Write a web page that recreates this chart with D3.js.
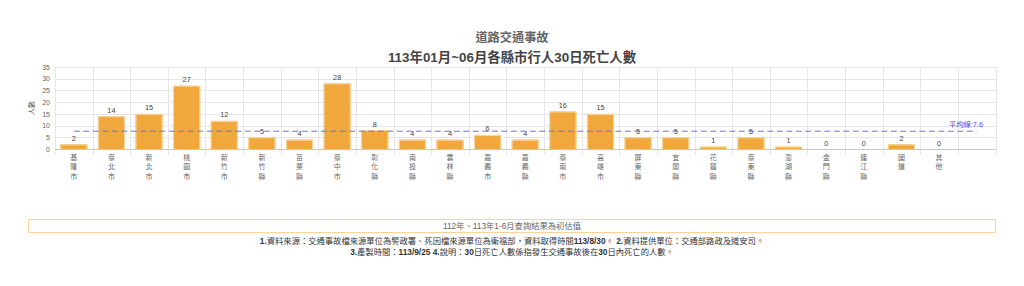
<!DOCTYPE html>
<html>
<head>
<meta charset="utf-8">
<script src="https://cdn.jsdelivr.net/npm/d3@7/dist/d3.min.js"></script>
<style>
  html, body { margin: 0; padding: 0; background: #fff; }
  svg { display: block; }
  text { font-family: "Liberation Sans", "Noto Sans CJK TC", sans-serif; }
</style>
</head>
<body>
<svg id="chart" width="1024" height="286"></svg>
<script>
const categories = ["基隆市","臺北市","新北市","桃園市","新竹市","新竹縣","苗栗縣","臺中市","彰化縣","南投縣","雲林縣","嘉義市","嘉義縣","臺南市","高雄市","屏東縣","宜蘭縣","花蓮縣","臺東縣","澎湖縣","金門縣","連江縣","國道","其他"];
const deaths = [2,14,15,27,12,5,4,28,8,4,4,6,4,16,15,5,5,1,5,1,0,0,2,0];
const averageValue = 7.6;
const averageLabel = "平均線:7.6";
const yTicks = [0,5,10,15,20,25,30,35];
const titleLine1 = "道路交通事故";
const titleLine2 = "113年01月~06月各縣市行人30日死亡人數";
const yTitle = "人數";
const boxNote = "112年、113年1-6月查詢結果為初估值";
const notes = [
  "1.資料來源：交通事故檔來源單位為警政署、死因檔來源單位為衛福部，資料取得時間113/8/30。 2.資料提供單位：交通部路政及道安司。",
  "3.產製時間：113/9/25 4.說明：30日死亡人數係指發生交通事故後在30日內死亡的人數。"
];

(function () {
const svg = d3.select("#chart");
const W = 1024;
const pL = 55, pR = 995.5, pT = 67, pB = 149;

// slots: 24 categories + 1 trailing empty slot (avg line end)
const slots = categories.concat([""]);
const x = d3.scaleBand().domain(d3.range(slots.length)).range([pL, pR]).padding(0);
const y = d3.scaleLinear().domain([0, 35]).range([pB, pT]);

// title
svg.append("text").attr("x", W/2).attr("y", 41.5).attr("text-anchor", "middle")
  .attr("font-size", 12.2).attr("font-weight", "bold").attr("fill", "#666").text(titleLine1);
svg.append("text").attr("x", W/2).attr("y", 61.5).attr("text-anchor", "middle")
  .attr("font-size", 13.4).attr("font-weight", "bold").attr("fill", "#444").text(titleLine2);

// horizontal grid
const gy = svg.append("g").attr("transform", `translate(${pL},0)`)
  .call(d3.axisLeft(y).tickValues(yTicks).tickSize(-(pR-pL)).tickPadding(5).tickFormat(d3.format("d")));
gy.select(".domain").remove();
gy.selectAll(".tick line").attr("stroke", "#e6e6e6").attr("shape-rendering", "crispEdges");
gy.selectAll(".tick text").attr("font-size", 7).attr("fill", "#666")
  .style("font-family", "'Liberation Sans', sans-serif");

// vertical grid lines at slot boundaries
const bounds = d3.range(slots.length + 1).map(i => i < slots.length ? x(i) : pR);
svg.append("g").selectAll("line").data(bounds).join("line")
  .attr("x1", d => Math.round(d) + 0.5).attr("x2", d => Math.round(d) + 0.5)
  .attr("y1", pT).attr("y2", pB + 6)
  .attr("stroke", "#e6e6e6");

// x axis baseline
svg.append("line").attr("x1", pL).attr("x2", pR).attr("y1", pB + 0.5).attr("y2", pB + 0.5)
  .attr("stroke", "#c8c8c8");

// x axis labels (vertical stacked characters)
const gx = svg.append("g").attr("transform", `translate(0,${pB})`)
  .call(d3.axisBottom(x).tickSize(0).tickFormat(""));
gx.select(".domain").remove();
gx.selectAll(".tick").each(function(i) {
  const label = slots[i];
  const t = d3.select(this).append("text").attr("text-anchor", "middle")
    .attr("font-size", 7).attr("fill", "#666");
  Array.from(label).forEach((ch, k) => {
    t.append("tspan").attr("x", 0).attr("y", 10.8 + k * 9.6).text(ch);
  });
});

// y axis title
svg.append("text").attr("transform", "translate(34,108) rotate(-90)").attr("text-anchor", "middle")
  .attr("font-size", 7).attr("fill", "#555").text(yTitle);

// bars
const bw = x.bandwidth() * 0.72;
const bars = svg.append("g");
bars.selectAll("rect").data(deaths).join("rect")
  .attr("x", (d, i) => x(i) + (x.bandwidth() - bw) / 2)
  .attr("y", d => y(d))
  .attr("width", bw)
  .attr("height", d => y(0) - y(d))
  .attr("fill", "#f0a83c");
bars.selectAll("path").data(deaths.map((v, i) => ({v, i})).filter(d => d.v > 0)).join("path")
  .attr("d", d => {
    const x0 = x(d.i) + (x.bandwidth() - bw) / 2 + 0.5, x1 = x0 + bw - 1, yt = y(d.v) + 0.5;
    return `M${x0},${y(0)}V${yt}H${x1}V${y(0)}`;
  })
  .attr("fill", "none").attr("stroke", "#f9d7a4").attr("stroke-width", 1);

// value labels
svg.append("g").selectAll("text").data(deaths).join("text")
  .attr("x", (d, i) => x(i) + x.bandwidth() / 2)
  .attr("y", d => y(d) - 3.5)
  .attr("text-anchor", "middle").attr("font-size", 7.3).attr("fill", "#444")
  .text(d => d);

// average line
const avgPts = [0, slots.length - 1];
svg.append("line")
  .attr("x1", x(avgPts[0]) + x.bandwidth()/2).attr("x2", x(avgPts[1]) + x.bandwidth()/2)
  .attr("y1", y(averageValue)).attr("y2", y(averageValue))
  .attr("stroke", "#6f6fe6").attr("stroke-width", 1).attr("stroke-dasharray", "6,3.5");
svg.append("text").attr("x", 983).attr("y", y(averageValue) - 4)
  .attr("text-anchor", "end").attr("font-size", 7.3).attr("fill", "#4a4af5").text(averageLabel);

// footer box
svg.append("rect").attr("x", 28.5).attr("y", 219.5).attr("width", 967).attr("height", 13)
  .attr("fill", "none").attr("stroke", "#ffd29c").attr("stroke-width", 1);
svg.append("text").attr("x", W/2).attr("y", 229).attr("text-anchor", "middle")
  .attr("font-size", 8.3).attr("fill", "#666").text(boxNote);

// notes with bold ASCII runs
notes.forEach((line, li) => {
  const t = svg.append("text").attr("x", W/2).attr("y", 244 + li * 10.5).attr("text-anchor", "middle")
    .attr("font-size", 8.3).attr("fill", "#333");
  const parts = line.match(/[\x00-\x7F]+|[^\x00-\x7F]+/g);
  parts.forEach(p => {
    t.append("tspan").attr("font-weight", /[\x00-\x7F]/.test(p) ? "bold" : "normal")
      .style("white-space", "pre").text(p);
  });
});
})();
</script>
</body>
</html>
